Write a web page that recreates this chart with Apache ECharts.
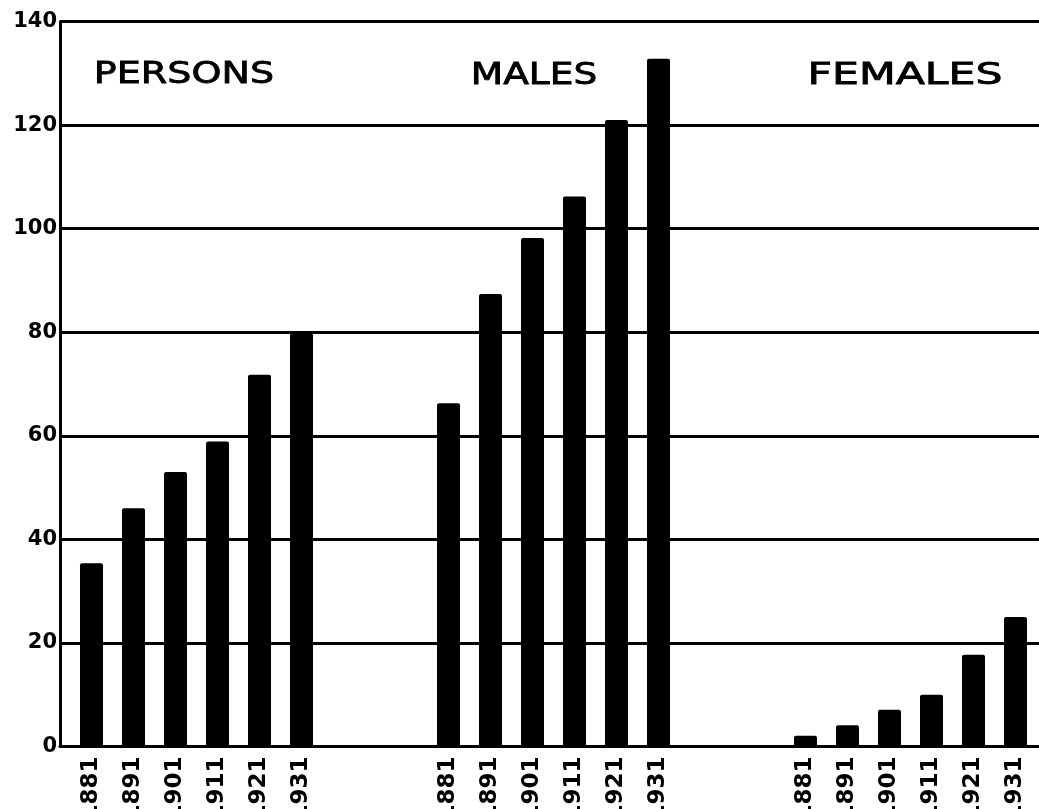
<!DOCTYPE html>
<html>
<head>
<meta charset="utf-8">
<script src="https://cdn.jsdelivr.net/npm/echarts@6/dist/echarts.min.js"></script>
<style>
html,body{margin:0;padding:0;background:#fff;}
#chart{width:1039px;height:809px;}
</style>
</head>
<body>
<div id="chart"></div>
<script>
// ---- data ----
const years = ['1881', '1891', '1901', '1911', '1921', '1931'];
const groupNames = ['PERSONS', 'MALES', 'FEMALES'];
const persons = [35.4, 46.0, 53.0, 58.9, 71.8, 79.8];
const males = [66.3, 87.4, 98.2, 106.2, 121.0, 132.8];
const females = [2.1, 4.1, 7.1, 10.0, 17.7, 25.0];
const yTicks = [0, 20, 40, 60, 80, 100, 120, 140];

// ---- build category slots (blank slots between bars / groups) ----
const groups = [persons, males, females];
const cats = [];
const vals = [];
function blank(n) { for (let k = 0; k < n; k++) { cats.push(''); vals.push('-'); } }
blank(1);
groups.forEach((g, gi) => {
  years.forEach((y, i) => {
    cats.push(y); vals.push(g[i]);
    if (i < years.length - 1) blank(1);
  });
  if (gi < groups.length - 1) blank(6);
});
blank(1);

const chart = echarts.init(document.getElementById('chart'), null, {renderer: 'canvas'});
const titleFont = '30px "DejaVu Sans"';
chart.setOption({
  animation: false,
  backgroundColor: '#fff',
  grid: {left: 60, top: 21.5, width: 21 * cats.length, height: 725, containLabel: false, outerBoundsMode: 'none'},
  xAxis: {
    type: 'category',
    data: cats,
    axisLine: {show: true, onZero: true, lineStyle: {color: '#000', width: 3}},
    axisTick: {show: false},
    splitLine: {show: false},
    axisLabel: {
      interval: 0, rotate: 90, margin: 10, color: '#000',
      fontFamily: 'DejaVu Sans', fontWeight: 'bold', fontSize: 23
    }
  },
  yAxis: {
    type: 'value',
    min: yTicks[0], max: yTicks[yTicks.length - 1], interval: 20,
    axisLine: {show: true, lineStyle: {color: '#000', width: 3}},
    axisTick: {show: false},
    splitLine: {show: true, lineStyle: {color: '#000', width: 3}},
    axisLabel: {
      margin: 3, color: '#000',
      fontFamily: 'DejaVu Sans', fontWeight: 'bold', fontSize: 21
    }
  },
  series: [{
    type: 'bar',
    data: vals,
    barWidth: 23,
    itemStyle: {color: '#000', borderRadius: [2, 2, 0, 0]},
    z: 3
  }],
  graphic: [
    {type: 'text', x: 184, y: 75, scaleX: 1.27,
     style: {text: groupNames[0], font: titleFont, fill: '#000', stroke: '#000', lineWidth: 0.8, textAlign: 'center', textVerticalAlign: 'middle'}},
    {type: 'text', x: 534, y: 76, scaleX: 1.25,
     style: {text: groupNames[1], font: titleFont, fill: '#000', stroke: '#000', lineWidth: 0.8, textAlign: 'center', textVerticalAlign: 'middle'}},
    {type: 'text', x: 905, y: 76, scaleX: 1.42,
     style: {text: groupNames[2], font: titleFont, fill: '#000', stroke: '#000', lineWidth: 0.8, textAlign: 'center', textVerticalAlign: 'middle'}}
  ]
});
</script>
</body>
</html>
